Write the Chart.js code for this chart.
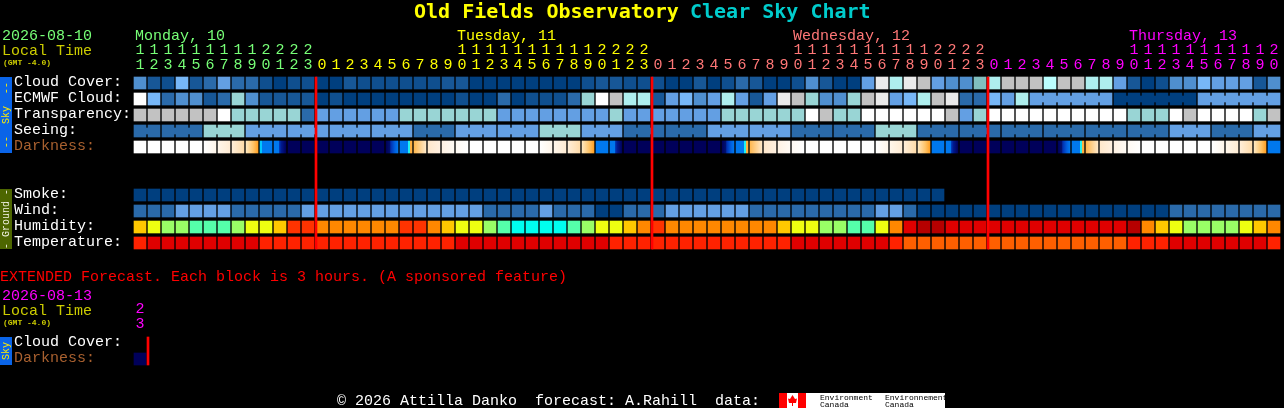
<!DOCTYPE html>
<html>
<head>
<meta charset="utf-8">
<title>Old Fields Observatory Clear Sky Chart</title>
<script src="https://cdn.jsdelivr.net/npm/chart.js@4"></script>
<style>
html, body { margin: 0; padding: 0; background: #000; overflow: hidden; }
canvas { display: block; }
</style>
</head>
<body>
<canvas id="csc" width="1284" height="408"></canvas>
<script>
// hour of each block, local time
const hours = [11,12,13,14,15,16,17,18,19,20,21,22,23,
  0,1,2,3,4,5,6,7,8,9,10,11,12,13,14,15,16,17,18,19,20,21,22,23,
  0,1,2,3,4,5,6,7,8,9,10,11,12,13,14,15,16,17,18,19,20,21,22,23,
  0,1,2,3,4,5,6,7,8,9,10,11,12,13,14,15,16,17,18,19,20]
const midnights = [13, 37, 61]

// sky rows, values are indexes in skyColors
const cloudCover = [4,2,1,6,2,3,5,3,3,1,0,1,1,0,0,2,1,1,1,1,1,1,2,2,0,0,0,0,0,0,0,0,1,2,2,1,1,
  1,0,0,2,0,1,3,2,0,0,1,4,2,0,0,5,12,9,12,11,5,4,4,7,9,11,11,11,10,11,11,9,9,5,2,0,1,4,4,6,5,5,5,2,4]
const ecmwfCloud = [13,6,3,4,4,2,3,8,4,2,2,2,2,0,1,0,0,0,0,0,0,0,0,1,0,0,3,0,1,1,1,3,8,13,11,9,9,
  2,5,6,4,5,9,5,2,5,12,11,8,4,4,8,11,12,5,6,9,11,12,3,3,6,5,9,5,5,5,5,5,5,0,0,0,0,0,0,5,5,5,5,5,5]
const transparency = [11,11,11,11,11,11,13,8,8,8,8,8,3,5,5,5,5,5,5,8,8,8,8,8,8,8,5,5,5,5,5,5,5,5,8,5,5,
  5,5,5,5,5,8,8,8,8,8,8,13,11,8,8,13,13,13,13,13,13,11,5,8,13,13,13,13,13,13,13,13,13,13,8,8,8,13,11,13,13,13,13,8,11]
const seeing = [3,3,3,3,3,8,8,8,5,5,5,5,5,5,5,5,5,5,5,5,3,3,3,5,5,5,5,5,5,8,8,8,5,5,5,3,3,
  3,3,3,3,5,5,5,5,5,5,3,3,3,3,3,3,8,8,8,3,3,3,3,3,3,3,3,3,3,3,3,3,3,3,3,3,3,5,5,5,3,3,3,5,5]
const darkness = [0,0,0,0,0,1,2,3,4,5,6,7,7,7,7,7,7,7,8,9,10,11,12,13,0,0,0,0,0,1,2,3,4,14,6,7,7,
  7,7,7,7,7,8,9,10,11,12,13,0,0,0,0,0,1,2,3,4,14,6,7,7,7,7,7,7,7,8,9,10,11,12,13,0,0,0,0,0,1,2,3,4,14]
const extDarkness = [7]

// ground rows
const smoke = [0,0,0,0,0,0,0,0,0,0,0,0,0,0,0,0,0,0,0,0,0,0,0,0,0,0,0,0,0,0,0,0,0,0,0,0,0,
  0,0,0,0,0,0,0,0,0,0,0,0,0,0,0,0,0,0,0,0,0]
const wind = [3,3,3,5,5,5,5,3,3,3,3,3,5,5,5,5,5,5,5,5,5,5,5,5,5,3,3,3,3,5,3,3,3,0,0,3,3,
  3,5,5,5,5,5,5,3,3,3,3,3,3,3,3,3,5,5,3,0,0,0,0,0,0,0,0,0,0,0,0,0,0,0,0,0,0,3,3,3,3,3,3,3,3]
const humidity = [4,3,2,2,1,1,1,2,3,3,4,6,6,5,5,5,5,5,5,6,6,5,4,3,3,2,1,0,0,0,0,1,2,3,3,4,5,
  6,5,5,5,5,5,5,5,5,4,3,3,2,2,1,1,3,5,7,8,8,7,7,7,7,7,7,7,7,7,7,7,7,7,8,5,4,3,2,2,2,2,3,4,5]
const temperature = [1,0,0,0,0,0,0,0,0,1,1,1,1,1,1,1,1,1,1,1,1,1,1,0,0,0,0,0,0,0,0,0,0,0,1,1,1,
  1,1,1,1,1,1,1,1,1,1,0,0,0,0,0,0,0,1,2,2,2,2,2,2,2,2,2,2,2,2,2,2,2,2,1,1,1,0,0,0,0,0,0,0,1]

// where blocks share one forecast value they are linked
const seeingBlocks = [2,3,3,3,3,3,3,3,3,3,3,3,3,3,3,3,3,3,3,3,3,3,3,3,3,3,3,2]
const ecmwfBlocks = [6,6,6]

const skyColors = ['#003f7f','#0f4f8f','#175797','#2a6aaa','#4f8fcf','#639fe3','#77b7f7',
  '#80bfbf','#99d5d5','#aeeeee','#bbffff','#c2c2c2','#eaeaea','#ffffff']
const humColors = ['#00ffee','#55ffaa','#99ff66','#eeff11','#ffc800','#ff8800','#ff3300','#e00000','#b60000']
const tempColors = ['#e00000','#ff2200','#ff5f00']
const darkStops = [
  [[0,'#ffffff']],
  [[0,'#ffffff'],[1,'#fff6ea']],
  [[0,'#fff6ea'],[1,'#ffecd4']],
  [[0,'#ffeed8'],[1,'#ffdcaa']],
  [[0,'#ffe8c0'],[0.6,'#ffc468'],[1,'#ffa024']],
  [[0,'#00c8ff'],[0.15,'#00c8ff'],[0.16,'#0078ee'],[1,'#0078ee']],
  [[0,'#0078ee'],[0.4,'#0078ee'],[0.42,'#0040c0'],[0.6,'#001a90'],[1,'#00005a']],
  [[0,'#00005a']],
  [[0,'#00005a'],[0.3,'#00106e'],[0.4,'#0030b0'],[0.75,'#0060e0'],[1,'#0078ee']],
  [[0,'#0078ee'],[0.65,'#0078ee'],[0.66,'#20f0f0'],[0.82,'#20f0f0'],[0.83,'#ffb040'],[1,'#ffb040']],
  [[0,'#ffb850'],[1,'#ffe8c8']],
  [[0,'#ffe8cc'],[1,'#fff0e0']],
  [[0,'#fff2e4'],[1,'#fffaf4']],
  [[0,'#fffaf4'],[1,'#ffffff']],
  [[0,'#0078ee']]
]

const MONO = '"Liberation Mono"'
const CELL = 0.75   // cell height in row units

function hourColor(i) {
  if (i < midnights[0]) return '#77ff77'
  if (i < midnights[1]) return '#ffff00'
  if (i < midnights[2]) return '#ff7777'
  return '#ff00ff'
}

function cellRow(name, values, row, colors) {
  return {
    label: name,
    data: values.map(() => [row, row + CELL]),
    backgroundColor: values.map(v => colors[v]),
    barThickness: 12,
    grouped: false,
    borderWidth: 0,
    order: 2
  }
}

function darkRow(name, values, row) {
  return {
    label: name,
    data: values.map(() => [row, row + CELL]),
    backgroundColor: c => {
      if (c.dataIndex === undefined) return '#000'
      const px = c.chart.scales.x.getPixelForValue(c.dataIndex)
      if (!isFinite(px)) return '#000'
      const g = c.chart.ctx.createLinearGradient(px - 6, 0, px + 6, 0)
      darkStops[values[c.dataIndex]].forEach(s => g.addColorStop(s[0], s[1]))
      return g
    },
    barThickness: 12,
    grouped: false,
    borderWidth: 0,
    order: 2
  }
}

// small joins between the cells of one block
function linkRow(values, row, blocks, start) {
  const data = []
  const color = []
  blocks.forEach(n => {
    for (let i = start; i < start + n - 1; i++) {
      data.push({x: i + 0.5, y: [row + 0.1875, row + 0.5625]})
      color.push(skyColors[values[i]])
    }
    start += n
  })
  return {
    data: data,
    backgroundColor: color,
    xAxisID: 'xLink',
    barThickness: 2,
    grouped: false,
    borderWidth: 0,
    order: 3
  }
}

function redLine(column, from, to) {
  return {
    data: [{x: column - 6 / 14, y: [from, to]}],
    backgroundColor: '#ff0000',
    xAxisID: 'xLink',
    barThickness: 2,
    grouped: false,
    borderWidth: 0,
    order: 0
  }
}

const rowNames = [
  ['Cloud Cover:', 0, '#ffffff'], ['ECMWF Cloud:', 1, '#ffffff'], ['Transparency:', 2, '#ffffff'],
  ['Seeing:', 3, '#ffffff'], ['Darkness:', 4, '#a8602f'],
  ['Smoke:', 7, '#ffffff'], ['Wind:', 8, '#ffffff'], ['Humidity:', 9, '#ffffff'], ['Temperature:', 10, '#ffffff'],
  ['Cloud Cover:', 16.25, '#ffffff'], ['Darkness:', 17.25, '#a8602f']
]
const dayNames = [['Monday, 10', 0, '#77ff77'], ['Tuesday, 11', 23, '#ffff00'],
  ['Wednesday, 12', 47, '#ff7777'], ['Thursday, 13', 71, '#ff00ff']]

const textPlugin = {
  id: 'cscText',
  afterDraw(chart) {
    const c = chart.ctx
    const y = chart.scales.y
    const x = chart.scales.x
    const put = (s, px, py, col, font) => {
      c.font = font || ('15px ' + MONO)
      c.fillStyle = col
      c.fillText(s, px, py)
    }
    c.save()
    c.textAlign = 'left'
    c.textBaseline = 'alphabetic'
    put('Old Fields Observatory', 414, 18, '#ffff00', 'bold 20px "DejaVu Sans Mono"')
    put('Clear Sky Chart', 690, 18, '#00cccc', 'bold 20px "DejaVu Sans Mono"')
    put('2026-08-10', 2, 40, '#77ff77')
    put('Local Time', 2, 55, '#cccc00')
    put('(GMT -4.0)', 3, 65, '#cccc00', 'bold 8px ' + MONO)
    dayNames.forEach(d => put(d[0], x.getPixelForValue(d[1]) - 5, 40, d[2]))
    rowNames.forEach(r => put(r[0], 14, y.getPixelForValue(r[1]) + 9, r[2]))
    put('EXTENDED Forecast. Each block is 3 hours. (A sponsored feature)', 0, 281, '#ff0000')
    put('2026-08-13', 2, 300, '#ff00ff')
    put('Local Time', 2, 315, '#cccc00')
    put('(GMT -4.0)', 3, 325, '#cccc00', 'bold 8px ' + MONO)
    put('\u00a9 2026 Attilla Danko  forecast: A.Rahill  data:', 337, 405, '#ffffff')

    // side tabs
    const tab = (from, to, bg, col, s) => {
      const a = y.getPixelForValue(from)
      const b = y.getPixelForValue(to)
      c.fillStyle = bg
      c.fillRect(0, a, 12, b - a)
      c.save()
      c.translate(6, (a + b) / 2)
      c.rotate(-Math.PI / 2)
      c.textAlign = 'center'
      c.textBaseline = 'middle'
      c.font = '10px ' + MONO
      c.fillStyle = col
      c.fillText(s, 0, 0)
      c.restore()
    }
    tab(0, 4 + CELL, '#0a64e8', '#ffee00', '--  Sky  --')
    tab(7, 10 + CELL, '#4d6600', '#f0f0e0', '- Ground -')
    tab(16.25, 18, '#0a64e8', '#ffee00', 'Sky')

    // data logo
    c.fillStyle = '#ffffff'
    c.fillRect(779, 393, 166, 15)
    c.fillStyle = '#ff0000'
    c.fillRect(779, 393, 8, 15)
    c.fillRect(798, 393, 8, 15)
    c.beginPath()
    c.moveTo(792.5, 395)
    c.lineTo(795, 399)
    c.lineTo(797, 398.5)
    c.lineTo(796, 403)
    c.lineTo(793, 403)
    c.lineTo(793, 406)
    c.lineTo(792, 406)
    c.lineTo(792, 403)
    c.lineTo(789, 403)
    c.lineTo(788, 398.5)
    c.lineTo(790, 399)
    c.closePath()
    c.fill()
    put('Environment', 820, 400, '#000000', '8px ' + MONO)
    put('Canada', 820, 407, '#000000', '8px ' + MONO)
    put('Environnement', 885, 400, '#000000', '8px ' + MONO)
    put('Canada', 885, 407, '#000000', '8px ' + MONO)
    c.restore()
  }
}

const hourLabels = hours.map(h => h > 9 ? [String(Math.floor(h / 10)), String(h % 10)] : ['', String(h)])
const extLabels = hours.map((h, i) => i === 0 ? ['2', '3'] : '')

const hourAxis = (row, color) => ({
  type: 'category',
  position: {y: row},
  offset: true,
  grid: {display: false, drawTicks: false},
  border: {display: false},
  ticks: {
    color: color,
    padding: 0,
    autoSkip: false,
    maxRotation: 0,
    minRotation: 0,
    font: {family: MONO, size: 15, lineHeight: '15px'}
  }
})

const ctx = document.getElementById('csc')

new Chart(ctx, {
  type: 'bar',
  data: {
    labels: hourLabels,
    datasets: [
      cellRow('Cloud Cover', cloudCover, 0, skyColors),
      cellRow('ECMWF Cloud', ecmwfCloud, 1, skyColors),
      cellRow('Transparency', transparency, 2, skyColors),
      cellRow('Seeing', seeing, 3, skyColors),
      darkRow('Darkness', darkness, 4),
      cellRow('Smoke', smoke, 7, skyColors),
      cellRow('Wind', wind, 8, skyColors),
      cellRow('Humidity', humidity, 9, humColors),
      cellRow('Temperature', temperature, 10, tempColors),
      darkRow('Extended Darkness', extDarkness, 17.25),
      linkRow(seeing, 3, seeingBlocks, 0),
      linkRow(ecmwfCloud, 1, ecmwfBlocks, 64),
      ...midnights.map(m => redLine(m, 0, 10 + CELL)),
      redLine(1, 16.25, 18)
    ]
  },
  options: {
    responsive: false,
    animation: false,
    devicePixelRatio: 1,
    layout: {padding: {left: 133, right: 3, top: 0, bottom: 0}},
    plugins: {legend: {display: false}, tooltip: {enabled: false}},
    events: [],
    scales: {
      x: hourAxis(-2.125, c => hourColor(c.index)),
      xExt: {...hourAxis(14.0625, '#ff00ff'), labels: extLabels},
      xLink: {type: 'linear', axis: 'x', display: false, offset: false, min: -0.5, max: 81.5},
      y: {type: 'linear', display: false, reverse: true, min: -77 / 16, max: 331 / 16}
    }
  },
  plugins: [textPlugin]
})
</script>
</body>
</html>
